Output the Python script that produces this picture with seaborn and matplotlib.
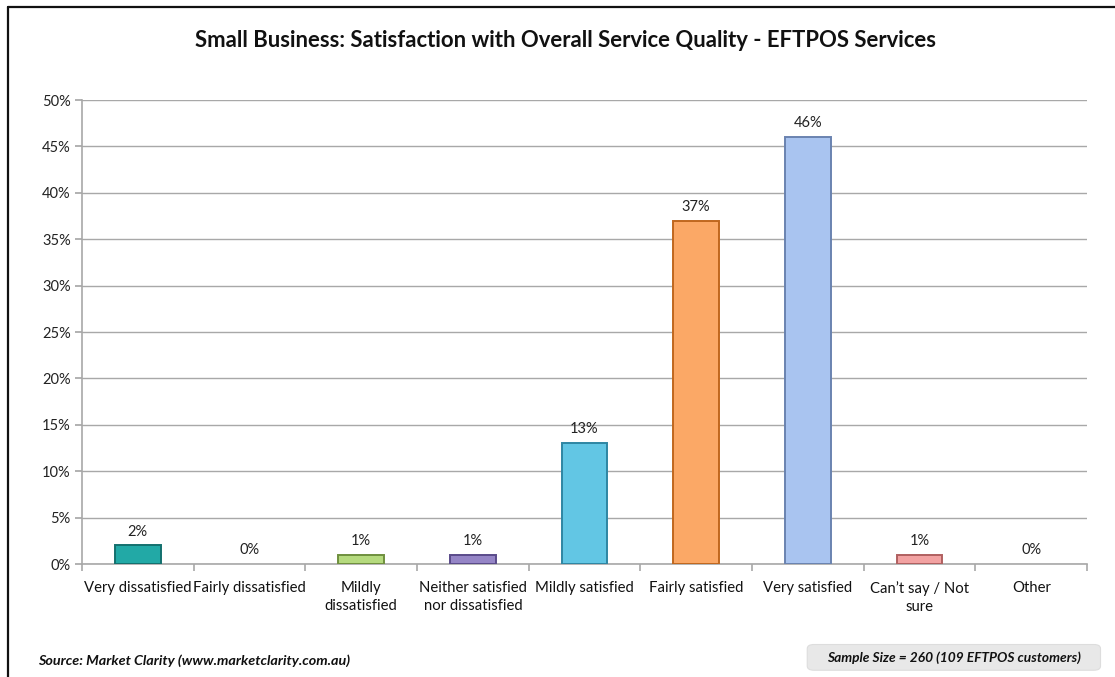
import matplotlib
matplotlib.use("Agg")
import matplotlib.pyplot as plt
import seaborn as sns
import numpy as np
import pandas as pd
from matplotlib.patches import FancyBboxPatch
from matplotlib.ticker import FixedLocator, PercentFormatter

categories = ["Very dissatisfied", "Fairly dissatisfied", "Mildly\ndissatisfied",
              "Neither satisfied\nnor dissatisfied", "Mildly satisfied", "Fairly satisfied",
              "Very satisfied", "Can\u2019t say / Not\nsure", "Other"]
values = [2, 0, 1, 1, 13, 37, 46, 1, 0]
value_labels = ["2%", "0%", "1%", "1%", "13%", "37%", "46%", "1%", "0%"]
bar_colors = ["#22A9A6", "#cccccc", "#B5DA7E", "#9585C6", "#62C6E4", "#FBA866", "#A9C4F0", "#F2A2A2", "#cccccc"]
edge_colors = ["#13706E", "#999999", "#6F8F3E", "#5A4B8A", "#2E86A3", "#C0671E", "#6A83B0", "#B06060", "#999999"]
y_ticks = [0, 5, 10, 15, 20, 25, 30, 35, 40, 45, 50]

title = "Small Business: Satisfaction with Overall Service Quality - EFTPOS Services"
source_text = "Source: Market Clarity (www.marketclarity.com.au)"
sample_text = "Sample Size = 260 (109 EFTPOS customers)"

sns.set_theme(style="white")
plt.rcParams["font.family"] = ["Lato", "DejaVu Sans"]

df = pd.DataFrame({"cat": categories, "val": values})

fig = plt.figure(figsize=(11.15, 6.77), dpi=100)
ax = fig.add_axes([0.0735, 0.1669, 0.9015, 0.6853])

sns.barplot(data=df, x="cat", y="val", hue="cat", palette=bar_colors, legend=False,
            width=0.41, ax=ax, saturation=1, zorder=3)
for p, ec, v in zip(ax.patches, edge_colors, values):
    p.set_edgecolor(ec)
    p.set_linewidth(1.4 if v > 0 else 0)

ax.set_ylim(0, 50)
ax.set_xlim(-0.5, len(categories) - 0.5)
ax.yaxis.set_major_locator(FixedLocator(y_ticks))
ax.yaxis.set_major_formatter(PercentFormatter(decimals=0))
ax.yaxis.grid(True, color="#A8A8A8", linewidth=1.0, zorder=0)
ax.set_axisbelow(True)
ax.set_xlabel("")
ax.set_ylabel("")

for s in ["top", "right"]:
    ax.spines[s].set_visible(False)
for s in ["left", "bottom"]:
    ax.spines[s].set_color("#A8A8A8")
    ax.spines[s].set_linewidth(1.2)

ax.tick_params(axis="y", which="major", length=5, color="#A8A8A8", labelsize=10.5,
               labelcolor="#222222", pad=3, left=True)
ax.tick_params(axis="x", which="major", length=0, labelsize=10.7, labelcolor="#111111", pad=12)
ax.set_xticks(range(len(categories)))
ax.set_xticklabels(categories, linespacing=1.4)
ax.xaxis.set_minor_locator(FixedLocator(np.arange(-0.5, len(categories), 1.0)))
ax.tick_params(axis="x", which="minor", length=5, color="#A8A8A8", bottom=True, width=1.2)

for i, (v, lab) in enumerate(zip(values, value_labels)):
    ax.annotate(lab, (i, v), xytext=(0, 5), textcoords="offset points",
                ha="center", va="bottom", fontsize=10.5, color="#222222")

fig.text(0.5075, 0.940, title, ha="center", va="center", fontsize=15.9, fontweight="bold",
         color="#111111")
fig.text(0.034, 0.024, source_text, ha="left", va="center", fontsize=10.4,
         fontweight="bold", fontstyle="italic", color="#111111")

box = FancyBboxPatch((0.728, 0.014), 0.255, 0.03, boxstyle="round,pad=0.004,rounding_size=0.006",
                     transform=fig.transFigure, facecolor="#E8E8E8", edgecolor="#DDDDDD",
                     linewidth=0.8)
fig.patches.append(box)
fig.text(0.8555, 0.029, sample_text, ha="center", va="center", fontsize=9.9,
         fontweight="bold", fontstyle="italic", color="#111111")

# outer frame
fig.lines.append(plt.Line2D([0.0075, 0.0075], [0.0, 0.989], transform=fig.transFigure,
                            color="#111111", linewidth=1.6))
fig.lines.append(plt.Line2D([0.0075, 1.0], [0.989, 0.989], transform=fig.transFigure,
                            color="#111111", linewidth=1.6))

fig.savefig("out.png", dpi=100)
